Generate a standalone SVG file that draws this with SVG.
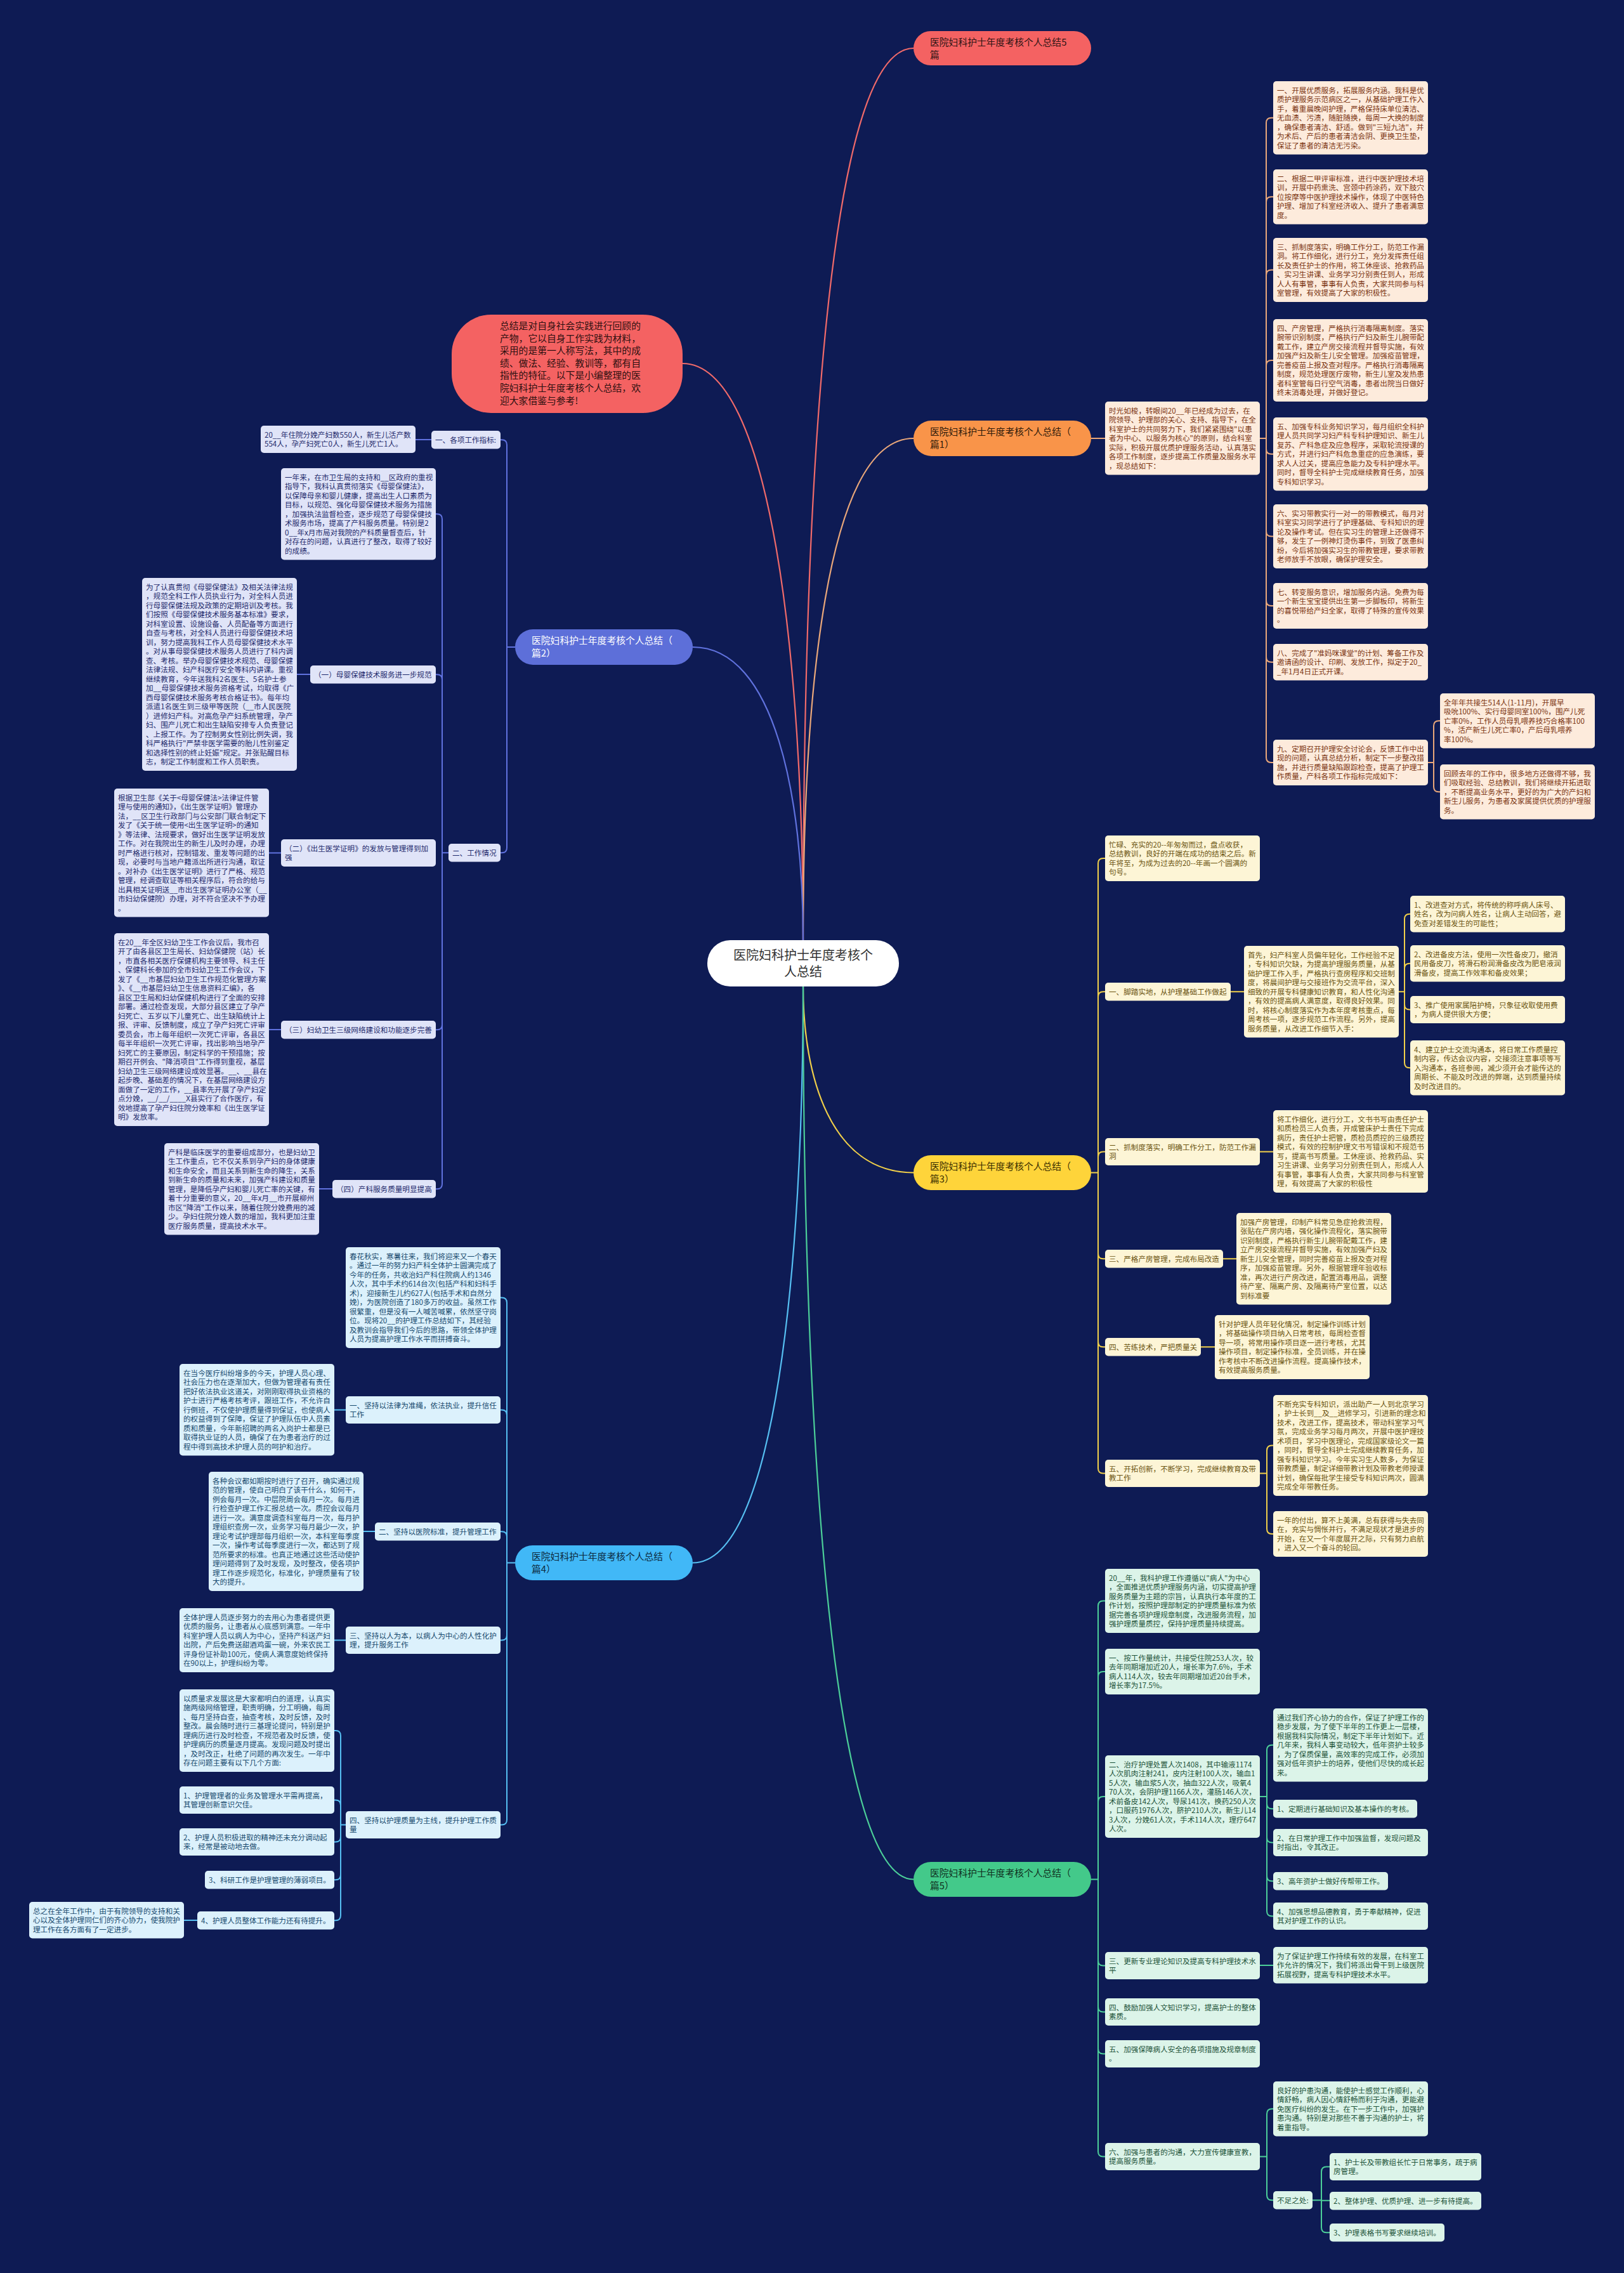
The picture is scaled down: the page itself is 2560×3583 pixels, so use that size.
<svg xmlns="http://www.w3.org/2000/svg" width="2560" height="3583" viewBox="0 0 2560 3583">
<style>
text{font-family:'Noto Sans CJK SC','Noto Sans',sans-serif}
.t{font-size:11.6px}
.pl{font-size:14.8px}
.o rect{fill:#fdebdc} .o text{fill:#7b3410}
.p rect{fill:#e0e4f8} .p text{fill:#1e2a6c}
.y rect{fill:#fdf5d6} .y text{fill:#6b5410}
.c rect{fill:#dcf1fc} .c text{fill:#174a6e}
.g rect{fill:#dcf4e9} .g text{fill:#1d5339}
path{fill:none;stroke-width:2}
.lo{stroke:#e9a77a}.lp{stroke:#6072de}.ly{stroke:#f0cf4a}.lc{stroke:#56bff2}.lg{stroke:#4ccf99}.lr{stroke:#f06a6a}
.m path{stroke-width:2.2}
</style>
<rect x="0" y="0" width="2560" height="3583" fill="#0e1b54"/>
<g id="connectors">
<g class="m">
<path class="lr" d="M1266 1482 C1266 807 1301 76 1440 76"/>
<path class="lr" d="M1266 1482 C1266 1045 1216 573 1076 573"/>
<path class="lo" d="M1266 1482 C1266 1102 1301 691 1440 691"/>
<path class="lp" d="M1266 1482 C1266 1260 1222 1020 1092 1020"/>
<path class="ly" d="M1266 1555 C1266 1696 1309 1848.5 1440 1848.5"/>
<path class="lc" d="M1266 1555 C1266 1991 1222 2463.5 1092 2463.5"/>
<path class="lg" d="M1266 1555 C1266 2230 1309 2962.5 1440 2962.5"/>
</g>
<g class="lo">
<path d="M1720 691 H1742"/>
<path d="M1986 691 H1996 V193.75 Q1996 185.75 2004 185.75 H2007"/>
<path d="M1996 691 V318.25 Q1996 310.25 2004 310.25 H2007"/>
<path d="M1996 691 V433.5 Q1996 425.5 2004 425.5 H2007"/>
<path d="M1996 691 V576 Q1996 568 2004 568 H2007"/>
<path d="M1996 691 V707.75 Q1996 715.75 2004 715.75 H2007"/>
<path d="M1996 691 V837.5 Q1996 845.5 2004 845.5 H2007"/>
<path d="M1996 691 V947 Q1996 955 2004 955 H2007"/>
<path d="M1996 691 V1035.75 Q1996 1043.75 2004 1043.75 H2007"/>
<path d="M1996 691 V1194 Q1996 1202 2004 1202 H2007"/>
<path d="M2251 1202 H2260 V1144.25 Q2260 1136.25 2268 1136.25 H2270"/>
<path d="M2260 1202 V1240.25 Q2260 1248.25 2268 1248.25 H2270"/>
</g>
<g class="ly">
<path d="M1720 1848.5 H1731 V1361 Q1731 1353 1739 1353 H1742"/>
<path d="M1731 1848.5 V1571.25 Q1731 1563.25 1739 1563.25 H1742"/>
<path d="M1731 1848.5 V1823.5 Q1731 1815.5 1739 1815.5 H1742"/>
<path d="M1731 1848.5 V1976.25 Q1731 1984.25 1739 1984.25 H1742"/>
<path d="M1731 1848.5 V2115.25 Q1731 2123.25 1739 2123.25 H1742"/>
<path d="M1731 1848.5 V2314.5 Q1731 2322.5 1739 2322.5 H1742"/>
<path d="M1940 1563.25 H1961"/>
<path d="M2205 1563.25 H2214 V1448.75 Q2214 1440.75 2222 1440.75 H2223"/>
<path d="M2214 1563.25 V1526.75 Q2214 1518.75 2222 1518.75 H2223"/>
<path d="M2214 1563.25 V1583.5 Q2214 1591.5 2222 1591.5 H2223"/>
<path d="M2214 1563.25 V1675.25 Q2214 1683.25 2222 1683.25 H2223"/>
<path d="M1986 1815.5 H2007"/>
<path d="M1928 1984.25 H1949"/>
<path d="M1893 2123.25 H1915"/>
<path d="M1986 2322.5 H1997 V2286.5 Q1997 2278.5 2005 2278.5 H2007"/>
<path d="M1997 2322.5 V2410 Q1997 2418 2005 2418 H2007"/>
</g>
<g class="lg">
<path d="M1720 2962.5 H1731 V2531.5 Q1731 2523.5 1739 2523.5 H1742"/>
<path d="M1731 2962.5 V2643 Q1731 2635 1739 2635 H1742"/>
<path d="M1731 2962.5 V2840 Q1731 2832 1739 2832 H1742"/>
<path d="M1731 2962.5 V3090.5 Q1731 3098.5 1739 3098.5 H1742"/>
<path d="M1731 2962.5 V3163.5 Q1731 3171.5 1739 3171.5 H1742"/>
<path d="M1731 2962.5 V3229.5 Q1731 3237.5 1739 3237.5 H1742"/>
<path d="M1731 2962.5 V3391.5 Q1731 3399.5 1739 3399.5 H1742"/>
<path d="M1986 2832 H1997 V2758.75 Q1997 2750.75 2005 2750.75 H2007"/>
<path d="M1997 2832 V2843.25 Q1997 2851.25 2005 2851.25 H2007"/>
<path d="M1997 2832 V2896.5 Q1997 2904.5 2005 2904.5 H2007"/>
<path d="M1997 2832 V2957.25 Q1997 2965.25 2005 2965.25 H2007"/>
<path d="M1997 2832 V3012.5 Q1997 3020.5 2005 3020.5 H2007"/>
<path d="M1986 3098 H2007"/>
<path d="M1986 3399.5 H1997 V3332.25 Q1997 3324.25 2005 3324.25 H2007"/>
<path d="M1997 3399.5 V3460.25 Q1997 3468.25 2005 3468.25 H2007"/>
<path d="M2069 3468.25 H2083 V3423.5 Q2083 3415.5 2091 3415.5 H2096"/>
<path d="M2083 3468.75 H2096"/>
<path d="M2083 3468.25 V3511.25 Q2083 3519.25 2091 3519.25 H2096"/>
</g>
<g class="lp">
<path d="M812 1020 H799 V701.25 Q799 693.25 791 693.25 H789"/>
<path d="M799 1020 V1336.25 Q799 1344.25 791 1344.25 H789"/>
<path d="M680 693 H655"/>
<path d="M707 1344.25 H697 V818.25 Q697 810.25 689 810.25 H687"/>
<path d="M697 1344.25 V1071.25 Q697 1063.25 689 1063.25 H687"/>
<path d="M697 1344.25 V1615.25 Q697 1623.25 689 1623.25 H687"/>
<path d="M697 1344.25 V1866.25 Q697 1874.25 689 1874.25 H687"/>
<path d="M489 1063 H468"/>
<path d="M443 1344.5 H424"/>
<path d="M443 1623 H424"/>
<path d="M524 1874 H503"/>
</g>
<g class="lc">
<path d="M812 2463.5 H799 V2053.5 Q799 2045.5 791 2045.5 H789"/>
<path d="M799 2463.5 V2230.5 Q799 2222.5 791 2222.5 H789"/>
<path d="M799 2463.5 V2422.25 Q799 2414.25 791 2414.25 H789"/>
<path d="M799 2463.5 V2577.5 Q799 2585.5 791 2585.5 H789"/>
<path d="M799 2463.5 V2868.5 Q799 2876.5 791 2876.5 H789"/>
<path d="M545 2222.5 H527"/>
<path d="M591 2414 H573"/>
<path d="M545 2585.5 H527"/>
<path d="M545 2876.5 H537 V2736 Q537 2728 529 2728 H527"/>
<path d="M537 2876.5 V2845.5 Q537 2837.5 529 2837.5 H527"/>
<path d="M537 2876.5 V2895.5 Q537 2903.5 529 2903.5 H527"/>
<path d="M537 2876.5 V2955.25 Q537 2963.25 529 2963.25 H527"/>
<path d="M537 2876.5 V3019.25 Q537 3027.25 529 3027.25 H527"/>
<path d="M311 3027 H290"/>
</g>
</g>

<g id="root">
<rect x="1115" y="1482" width="302" height="73" rx="36" fill="#ffffff"/>
<text x="1266" y="1512.5" font-size="20" fill="#333333" text-anchor="middle"><tspan x="1266">医院妇科护士年度考核个</tspan><tspan x="1266" dy="26">人总结</tspan></text>
</g>
<g id="title5">
<rect x="1440" y="49" width="280" height="54" rx="27" fill="#f46262"/>
<text class="pl" x="1466" y="72" fill="#2e1414"><tspan x="1466">医院妇科护士年度考核个人总结5</tspan><tspan x="1466" dy="20">篇</tspan></text>
</g>
<g id="intro">
<rect x="712" y="496" width="364" height="155" rx="62" fill="#f46262"/>
<text x="788" y="519" font-size="14.8" fill="#2e1010"><tspan x="788">总结是对自身社会实践进行回顾的</tspan><tspan x="788" dy="19.6">产物，它以自身工作实践为材料，</tspan><tspan x="788" dy="19.6">采用的是第一人称写法，其中的成</tspan><tspan x="788" dy="19.6">绩、做法、经验、教训等，都有自</tspan><tspan x="788" dy="19.6">指性的特征。以下是小编整理的医</tspan><tspan x="788" dy="19.6">院妇科护士年度考核个人总结，欢</tspan><tspan x="788" dy="19.6">迎大家借鉴与参考!</tspan></text>
</g>

<g id="pian1">
<rect x="1440" y="663" width="280" height="56" rx="28" fill="#f99449"/>
<text class="pl" x="1466" y="686" fill="#2e1a0a"><tspan x="1466">医院妇科护士年度考核个人总结（</tspan><tspan x="1466" dy="20">篇1）</tspan></text>
</g>
<g id="p1-intro" class="o"><rect x="1742" y="633" width="244" height="115.5" rx="5"/><text class="t" x="1748" y="651.5"><tspan x="1748">时光如梭，转眼间20__年已经成为过去，在</tspan><tspan x="1748" dy="14.5">院领导、护理部的关心、支持、指导下，在全</tspan><tspan x="1748" dy="14.5">科室护士的共同努力下，我们紧紧围绕"以患</tspan><tspan x="1748" dy="14.5">者为中心、以服务为核心"的原则，结合科室</tspan><tspan x="1748" dy="14.5">实际，积极开展优质护理服务活动，认真落实</tspan><tspan x="1748" dy="14.5">各项工作制度，逐步提高工作质量及服务水平</tspan><tspan x="1748" dy="14.5">，现总结如下：</tspan></text></g>
<g id="p1-1" class="o"><rect x="2007" y="128" width="244" height="115.5" rx="5"/><text class="t" x="2013" y="146.5"><tspan x="2013">一、开展优质服务，拓展服务内涵。我科是优</tspan><tspan x="2013" dy="14.5">质护理服务示范病区之一，从基础护理工作入</tspan><tspan x="2013" dy="14.5">手，着重晨晚间护理，严格保持床单位清洁、</tspan><tspan x="2013" dy="14.5">无血渍、污渍，随脏随换，每周一大换的制度</tspan><tspan x="2013" dy="14.5">，确保患者清洁、舒适。做到"三短九洁"，并</tspan><tspan x="2013" dy="14.5">为术后、产后的患者清洁会阴、更换卫生垫，</tspan><tspan x="2013" dy="14.5">保证了患者的清洁无污染。</tspan></text></g>
<g id="p1-2" class="o"><rect x="2007" y="267" width="244" height="86.5" rx="5"/><text class="t" x="2013" y="285.5"><tspan x="2013">二、根据二甲评审标准，进行中医护理技术培</tspan><tspan x="2013" dy="14.5">训，开展中药熏洗、宫颈中药涂药，双下肢穴</tspan><tspan x="2013" dy="14.5">位按摩等中医护理技术操作，体现了中医特色</tspan><tspan x="2013" dy="14.5">护理、增加了科室经济收入、提升了患者满意</tspan><tspan x="2013" dy="14.5">度。</tspan></text></g>
<g id="p1-3" class="o"><rect x="2007" y="375" width="244" height="101" rx="5"/><text class="t" x="2013" y="393.5"><tspan x="2013">三、抓制度落实，明确工作分工，防范工作漏</tspan><tspan x="2013" dy="14.5">洞。将工作细化，进行分工，充分发挥责任组</tspan><tspan x="2013" dy="14.5">长及责任护士的作用，将工休座谈、抢救药品</tspan><tspan x="2013" dy="14.5">、实习生讲课、业务学习分别责任到人，形成</tspan><tspan x="2013" dy="14.5">人人有事管，事事有人负责，大家共同参与科</tspan><tspan x="2013" dy="14.5">室管理，有效提高了大家的积极性。</tspan></text></g>
<g id="p1-4" class="o"><rect x="2007" y="503" width="244" height="130" rx="5"/><text class="t" x="2013" y="521.5"><tspan x="2013">四、产房管理，严格执行消毒隔离制度。落实</tspan><tspan x="2013" dy="14.5">腕带识别制度，严格执行产妇及新生儿腕带配</tspan><tspan x="2013" dy="14.5">戴工作，建立产房交接流程并督导实施，有效</tspan><tspan x="2013" dy="14.5">加强产妇及新生儿安全管理。加强疫苗管理，</tspan><tspan x="2013" dy="14.5">完善疫苗上报及查对程序。严格执行消毒隔离</tspan><tspan x="2013" dy="14.5">制度，规范处理医疗废物，新生儿室及发热患</tspan><tspan x="2013" dy="14.5">者科室管每日行空气消毒，患者出院当日做好</tspan><tspan x="2013" dy="14.5">终末消毒处理，并做好登记。</tspan></text></g>
<g id="p1-5" class="o"><rect x="2007" y="658" width="244" height="115.5" rx="5"/><text class="t" x="2013" y="676.5"><tspan x="2013">五、加强专科业务知识学习，每月组织全科护</tspan><tspan x="2013" dy="14.5">理人员共同学习妇产科专科护理知识、新生儿</tspan><tspan x="2013" dy="14.5">复苏、产科急症及应急程序，采取轮流授课的</tspan><tspan x="2013" dy="14.5">方式，并进行妇产科危急重症的应急演练，要</tspan><tspan x="2013" dy="14.5">求人人过关，提高应急能力及专科护理水平。</tspan><tspan x="2013" dy="14.5">同时，督导全科护士完成继续教育任务，加强</tspan><tspan x="2013" dy="14.5">专科知识学习。</tspan></text></g>
<g id="p1-6" class="o"><rect x="2007" y="795" width="244" height="101" rx="5"/><text class="t" x="2013" y="813.5"><tspan x="2013">六、实习带教实行一对一的带教模式，每月对</tspan><tspan x="2013" dy="14.5">科室实习同学进行了护理基础、专科知识的理</tspan><tspan x="2013" dy="14.5">论及操作考试。但在实习生的管理上还做得不</tspan><tspan x="2013" dy="14.5">够，发生了一例神灯烫伤事件，到致了医患纠</tspan><tspan x="2013" dy="14.5">纷，今后将加强实习生的带教管理，要求带教</tspan><tspan x="2013" dy="14.5">老师放手不放眼，确保护理安全。</tspan></text></g>
<g id="p1-7" class="o"><rect x="2007" y="919" width="244" height="72" rx="5"/><text class="t" x="2013" y="937.5"><tspan x="2013">七、转变服务意识，增加服务内涵。免费为每</tspan><tspan x="2013" dy="14.5">一个新生宝宝提供出生第一步脚板印，将新生</tspan><tspan x="2013" dy="14.5">的喜悦带给产妇全家，取得了特殊的宣传效果</tspan><tspan x="2013" dy="14.5">。</tspan></text></g>
<g id="p1-8" class="o"><rect x="2007" y="1015" width="244" height="57.5" rx="5"/><text class="t" x="2013" y="1033.5"><tspan x="2013">八、完成了"准妈咪课堂"的计划、筹备工作及</tspan><tspan x="2013" dy="14.5">邀请函的设计、印刷、发放工作，拟定于20_</tspan><tspan x="2013" dy="14.5">_年1月4日正式开课。</tspan></text></g>
<g id="p1-9" class="o"><rect x="2007" y="1166" width="244" height="72" rx="5"/><text class="t" x="2013" y="1184.5"><tspan x="2013">九、定期召开护理安全讨论会，反馈工作中出</tspan><tspan x="2013" dy="14.5">现的问题，认真总结分析，制定下一步整改措</tspan><tspan x="2013" dy="14.5">施，并进行质量缺陷跟踪检查，提高了护理工</tspan><tspan x="2013" dy="14.5">作质量，产科各项工作指标完成如下：</tspan></text></g>
<g id="p1-9a" class="o"><rect x="2270" y="1093" width="244" height="86.5" rx="5"/><text class="t" x="2276" y="1111.5"><tspan x="2276">全年年共接生514人(1-11月)，开展早</tspan><tspan x="2276" dy="14.5">吸吮100%、实行母婴同室100%，围产儿死</tspan><tspan x="2276" dy="14.5">亡率0%，工作人员母乳喂养技巧合格率100</tspan><tspan x="2276" dy="14.5">%，活产新生儿死亡率0，产后母乳喂养</tspan><tspan x="2276" dy="14.5">率100%。</tspan></text></g>
<g id="p1-9b" class="o"><rect x="2270" y="1205" width="244" height="86.5" rx="5"/><text class="t" x="2276" y="1223.5"><tspan x="2276">回顾去年的工作中，很多地方还做得不够，我</tspan><tspan x="2276" dy="14.5">们吸取经验、总结教训，我们将继续开拓进取</tspan><tspan x="2276" dy="14.5">，不断提高业务水平，更好的为广大的产妇和</tspan><tspan x="2276" dy="14.5">新生儿服务，为患者及家属提供优质的护理服</tspan><tspan x="2276" dy="14.5">务。</tspan></text></g>

<g id="pian3">
<rect x="1440" y="1821" width="280" height="55" rx="27.5" fill="#fed43a"/>
<text class="pl" x="1466" y="1844" fill="#3a2e00"><tspan x="1466">医院妇科护士年度考核个人总结（</tspan><tspan x="1466" dy="20">篇3）</tspan></text>
</g>
<g id="p3-0" class="y"><rect x="1742" y="1317" width="244" height="72" rx="5"/><text class="t" x="1748" y="1335.5"><tspan x="1748">忙碌、充实的20--年匆匆而过，盘点收获，</tspan><tspan x="1748" dy="14.5">总结教训，良好的开端在成功的结束之后。新</tspan><tspan x="1748" dy="14.5">年将至，为成为过去的20--年画一个圆满的</tspan><tspan x="1748" dy="14.5">句号。</tspan></text></g>
<g id="p3-1" class="y"><rect x="1742" y="1549" width="198" height="28.5" rx="5"/><text class="t" x="1748" y="1567.5">一、脚踏实地，从护理基础工作做起</text></g>
<g id="p3-1c" class="y"><rect x="1961" y="1491" width="244" height="144.5" rx="5"/><text class="t" x="1967" y="1509.5"><tspan x="1967">首先，妇产科室人员偏年轻化，工作经验不足</tspan><tspan x="1967" dy="14.5">，专科知识欠缺，为提高护理服务质量，从基</tspan><tspan x="1967" dy="14.5">础护理工作入手，严格执行查房程序和交班制</tspan><tspan x="1967" dy="14.5">度，将晨间护理与交接班作为交流平台，深入</tspan><tspan x="1967" dy="14.5">细致的开展专科健康知识教育，和人性化沟通</tspan><tspan x="1967" dy="14.5">，有效的提高病人满意度，取得良好效果。同</tspan><tspan x="1967" dy="14.5">时，将核心制度落实作为本年度考核重点，每</tspan><tspan x="1967" dy="14.5">周考核一项，逐步规范工作流程。另外，提高</tspan><tspan x="1967" dy="14.5">服务质量，从改进工作细节入手：</tspan></text></g>
<g id="p3-1c1" class="y"><rect x="2223" y="1412" width="244" height="57.5" rx="5"/><text class="t" x="2229" y="1430.5"><tspan x="2229">1、改进查对方式，将传统的称呼病人床号、</tspan><tspan x="2229" dy="14.5">姓名，改为问病人姓名，让病人主动回答，避</tspan><tspan x="2229" dy="14.5">免查对差错发生的可能性；</tspan></text></g>
<g id="p3-1c2" class="y"><rect x="2223" y="1490" width="244" height="57.5" rx="5"/><text class="t" x="2229" y="1508.5"><tspan x="2229">2、改进备皮方法，使用一次性备皮刀，撤消</tspan><tspan x="2229" dy="14.5">民用备皮刀，将滑石粉润滑备皮改为肥皂液润</tspan><tspan x="2229" dy="14.5">滑备皮，提高工作效率和备皮效果；</tspan></text></g>
<g id="p3-1c3" class="y"><rect x="2223" y="1570" width="244" height="43" rx="5"/><text class="t" x="2229" y="1588.5"><tspan x="2229">3、推广使用家属陪护椅，只象征收取使用费</tspan><tspan x="2229" dy="14.5">，为病人提供很大方便；</tspan></text></g>
<g id="p3-1c4" class="y"><rect x="2223" y="1640" width="244" height="86.5" rx="5"/><text class="t" x="2229" y="1658.5"><tspan x="2229">4、建立护士交流沟通本，将日常工作质量控</tspan><tspan x="2229" dy="14.5">制内容，传达会议内容，交接须注意事项等写</tspan><tspan x="2229" dy="14.5">入沟通本，各班参阅，减少须开会才能传达的</tspan><tspan x="2229" dy="14.5">周期长、不能及时改进的弊端，达到质量持续</tspan><tspan x="2229" dy="14.5">及时改进目的。</tspan></text></g>
<g id="p3-2" class="y"><rect x="1742" y="1794" width="244" height="43" rx="5"/><text class="t" x="1748" y="1812.5"><tspan x="1748">二、抓制度落实，明确工作分工，防范工作漏</tspan><tspan x="1748" dy="14.5">洞</tspan></text></g>
<g id="p3-2c" class="y"><rect x="2007" y="1750" width="244" height="130" rx="5"/><text class="t" x="2013" y="1768.5"><tspan x="2013">将工作细化，进行分工，文书书写由责任护士</tspan><tspan x="2013" dy="14.5">和质检员三人负责，开成管床护士责任下完成</tspan><tspan x="2013" dy="14.5">病历，责任护士把管，质检员质控的三级质控</tspan><tspan x="2013" dy="14.5">模式，有效的控制护理文书写错误和不规范书</tspan><tspan x="2013" dy="14.5">写，提高书写质量。工休座谈、抢救药品、实</tspan><tspan x="2013" dy="14.5">习生讲课、业务学习分别责任到人，形成人人</tspan><tspan x="2013" dy="14.5">有事管，事事有人负责，大家共同参与科室管</tspan><tspan x="2013" dy="14.5">理，有效提高了大家的积极性</tspan></text></g>
<g id="p3-3" class="y"><rect x="1742" y="1970" width="186" height="28.5" rx="5"/><text class="t" x="1748" y="1988.5">三、严格产房管理，完成布局改造</text></g>
<g id="p3-3c" class="y"><rect x="1949" y="1912" width="244" height="144.5" rx="5"/><text class="t" x="1955" y="1930.5"><tspan x="1955">加强产房管理，印制产科常见急症抢救流程，</tspan><tspan x="1955" dy="14.5">张贴在产房内墙，强化操作流程化，落实腕带</tspan><tspan x="1955" dy="14.5">识别制度，严格执行新生儿腕带配戴工作，建</tspan><tspan x="1955" dy="14.5">立产房交接流程并督导实施，有效加强产妇及</tspan><tspan x="1955" dy="14.5">新生儿安全管理，同时完善疫苗上报及查对程</tspan><tspan x="1955" dy="14.5">序，加强疫苗管理。另外，根据管理年验收标</tspan><tspan x="1955" dy="14.5">准，再次进行产房改进，配置消毒用品，调整</tspan><tspan x="1955" dy="14.5">待产室、隔离产房、及隔离待产室位置，以达</tspan><tspan x="1955" dy="14.5">到标准要</tspan></text></g>
<g id="p3-4" class="y"><rect x="1742" y="2109" width="151" height="28.5" rx="5"/><text class="t" x="1748" y="2127.5">四、苦练技术，严把质量关</text></g>
<g id="p3-4c" class="y"><rect x="1915" y="2073" width="244" height="101" rx="5"/><text class="t" x="1921" y="2091.5"><tspan x="1921">针对护理人员年轻化情况，制定操作训练计划</tspan><tspan x="1921" dy="14.5">，将基础操作项目纳入日常考核，每周检查督</tspan><tspan x="1921" dy="14.5">导一项，将常用操作项目逐一进行考核，尤其</tspan><tspan x="1921" dy="14.5">操作项目，制定操作标准，全员训练，并在操</tspan><tspan x="1921" dy="14.5">作考核中不断改进操作流程。提高操作技术，</tspan><tspan x="1921" dy="14.5">有效提高服务质量。</tspan></text></g>
<g id="p3-5" class="y"><rect x="1742" y="2301" width="244" height="43" rx="5"/><text class="t" x="1748" y="2319.5"><tspan x="1748">五、开拓创新，不断学习，完成继续教育及带</tspan><tspan x="1748" dy="14.5">教工作</tspan></text></g>
<g id="p3-5a" class="y"><rect x="2007" y="2199" width="244" height="159" rx="5"/><text class="t" x="2013" y="2217.5"><tspan x="2013">不断充实专科知识，派出助产一人到北京学习</tspan><tspan x="2013" dy="14.5">，护士长到__及__进修学习，引进新的理念和</tspan><tspan x="2013" dy="14.5">技术，改进工作，提高技术，带动科室学习气</tspan><tspan x="2013" dy="14.5">氛，完成业务学习每月两次，开展中医护理技</tspan><tspan x="2013" dy="14.5">术项目，学习中医理论，完成国家级论文一篇</tspan><tspan x="2013" dy="14.5">，同时，督导全科护士完成继续教育任务，加</tspan><tspan x="2013" dy="14.5">强专科知识学习。今年实习生人数多，为保证</tspan><tspan x="2013" dy="14.5">带教质量，制定详细带教计划及带教老师授课</tspan><tspan x="2013" dy="14.5">计划，确保每批学生接受专科知识两次，圆满</tspan><tspan x="2013" dy="14.5">完成全年带教任务。</tspan></text></g>
<g id="p3-5b" class="y"><rect x="2007" y="2382" width="244" height="72" rx="5"/><text class="t" x="2013" y="2400.5"><tspan x="2013">一年的付出，算不上美满，总有获得与失去同</tspan><tspan x="2013" dy="14.5">在，充实与惆怅并行，不满足现状才是进步的</tspan><tspan x="2013" dy="14.5">开始，在又一个年度展开之际，只有努力启航</tspan><tspan x="2013" dy="14.5">，进入又一个奋斗的轮回。</tspan></text></g>

<g id="pian5">
<rect x="1440" y="2935" width="280" height="55" rx="27.5" fill="#43c98a"/>
<text class="pl" x="1466" y="2958" fill="#10301f"><tspan x="1466">医院妇科护士年度考核个人总结（</tspan><tspan x="1466" dy="20">篇5）</tspan></text>
</g>
<g id="p5-0" class="g"><rect x="1742" y="2473" width="244" height="101" rx="5"/><text class="t" x="1748" y="2491.5"><tspan x="1748">20__年，我科护理工作遵循以"病人"为中心</tspan><tspan x="1748" dy="14.5">，全面推进优质护理服务内涵，切实提高护理</tspan><tspan x="1748" dy="14.5">服务质量为主题的宗旨，认真执行本年度的工</tspan><tspan x="1748" dy="14.5">作计划，按照护理部制定的护理质量标准为依</tspan><tspan x="1748" dy="14.5">据完善各项护理规章制度，改进服务流程，加</tspan><tspan x="1748" dy="14.5">强护理质量质控，保持护理质量持续提高。</tspan></text></g>
<g id="p5-1" class="g"><rect x="1742" y="2599" width="244" height="72" rx="5"/><text class="t" x="1748" y="2617.5"><tspan x="1748">一、按工作量统计，共接受住院253人次，较</tspan><tspan x="1748" dy="14.5">去年同期增加近20人，增长率为7.6%，手术</tspan><tspan x="1748" dy="14.5">病人114人次，较去年同期增加近20台手术，</tspan><tspan x="1748" dy="14.5">增长率为17.5%。</tspan></text></g>
<g id="p5-2" class="g"><rect x="1742" y="2767" width="244" height="130" rx="5"/><text class="t" x="1748" y="2785.5"><tspan x="1748">二、治疗护理处置人次1408，其中输液1174</tspan><tspan x="1748" dy="14.5">人次肌肉注射241，皮内注射100人次，输血1</tspan><tspan x="1748" dy="14.5">5人次，输血浆5人次，抽血322人次，吸氧4</tspan><tspan x="1748" dy="14.5">70人次，会阴护理1166人次，灌肠146人次，</tspan><tspan x="1748" dy="14.5">术前备皮142人次，导尿141次，换药250人次</tspan><tspan x="1748" dy="14.5">，口服药1976人次，脐护210人次，新生儿14</tspan><tspan x="1748" dy="14.5">3人次，分娩61人次，手术114人次，理疗647</tspan><tspan x="1748" dy="14.5">人次。</tspan></text></g>
<g id="p5-2a" class="g"><rect x="2007" y="2693" width="244" height="115.5" rx="5"/><text class="t" x="2013" y="2711.5"><tspan x="2013">通过我们齐心协力的合作，保证了护理工作的</tspan><tspan x="2013" dy="14.5">稳步发展，为了使下半年的工作更上一层楼，</tspan><tspan x="2013" dy="14.5">根据我科实际情况，制定下半年计划如下。近</tspan><tspan x="2013" dy="14.5">几年来，我科人事变动较大，低年资护士较多</tspan><tspan x="2013" dy="14.5">，为了保质保量，高效率的完成工作，必须加</tspan><tspan x="2013" dy="14.5">强对低年资护士的培养，使他们尽快的成长起</tspan><tspan x="2013" dy="14.5">来。</tspan></text></g>
<g id="p5-2b" class="g"><rect x="2007" y="2837" width="227" height="28.5" rx="5"/><text class="t" x="2013" y="2855.5">1、定期进行基础知识及基本操作的考核。</text></g>
<g id="p5-2c" class="g"><rect x="2007" y="2883" width="244" height="43" rx="5"/><text class="t" x="2013" y="2901.5"><tspan x="2013">2、在日常护理工作中加强监督，发现问题及</tspan><tspan x="2013" dy="14.5">时指出，令其改正。</tspan></text></g>
<g id="p5-2d" class="g"><rect x="2007" y="2951" width="181" height="28.5" rx="5"/><text class="t" x="2013" y="2969.5">3、高年资护士做好传帮带工作。</text></g>
<g id="p5-2e" class="g"><rect x="2007" y="2999" width="244" height="43" rx="5"/><text class="t" x="2013" y="3017.5"><tspan x="2013">4、加强思想品德教育，勇于奉献精神，促进</tspan><tspan x="2013" dy="14.5">其对护理工作的认识。</tspan></text></g>
<g id="p5-3" class="g"><rect x="1742" y="3077" width="244" height="43" rx="5"/><text class="t" x="1748" y="3095.5"><tspan x="1748">三、更新专业理论知识及提高专科护理技术水</tspan><tspan x="1748" dy="14.5">平</tspan></text></g>
<g id="p5-3c" class="g"><rect x="2007" y="3069" width="244" height="57.5" rx="5"/><text class="t" x="2013" y="3087.5"><tspan x="2013">为了保证护理工作持续有效的发展，在科室工</tspan><tspan x="2013" dy="14.5">作允许的情况下，我们将派出骨干到上级医院</tspan><tspan x="2013" dy="14.5">拓展视野，提高专科护理技术水平。</tspan></text></g>
<g id="p5-4" class="g"><rect x="1742" y="3150" width="244" height="43" rx="5"/><text class="t" x="1748" y="3168.5"><tspan x="1748">四、鼓励加强人文知识学习，提高护士的整体</tspan><tspan x="1748" dy="14.5">素质。</tspan></text></g>
<g id="p5-5" class="g"><rect x="1742" y="3216" width="244" height="43" rx="5"/><text class="t" x="1748" y="3234.5"><tspan x="1748">五、加强保障病人安全的各项措施及规章制度</tspan><tspan x="1748" dy="14.5">。</tspan></text></g>
<g id="p5-6" class="g"><rect x="1742" y="3378" width="244" height="43" rx="5"/><text class="t" x="1748" y="3396.5"><tspan x="1748">六、加强与患者的沟通，大力宣传健康宣教，</tspan><tspan x="1748" dy="14.5">提高服务质量。</tspan></text></g>
<g id="p5-6a" class="g"><rect x="2007" y="3281" width="244" height="86.5" rx="5"/><text class="t" x="2013" y="3299.5"><tspan x="2013">良好的护患沟通，能使护士感觉工作顺利，心</tspan><tspan x="2013" dy="14.5">情舒畅，病人因心情舒畅而利于沟通，更能避</tspan><tspan x="2013" dy="14.5">免医疗纠纷的发生。在下一步工作中，加强护</tspan><tspan x="2013" dy="14.5">患沟通。特别是对那些不善于沟通的护士，将</tspan><tspan x="2013" dy="14.5">着重指导。</tspan></text></g>
<g id="p5-6b" class="g"><rect x="2007" y="3454" width="62" height="28.5" rx="5"/><text class="t" x="2013" y="3472.5">不足之处:</text></g>
<g id="p5-6b1" class="g"><rect x="2096" y="3394" width="239" height="43" rx="5"/><text class="t" x="2102" y="3412.5"><tspan x="2102">1、护士长及带教组长忙于日常事务，疏于病</tspan><tspan x="2102" dy="14.5">房管理。</tspan></text></g>
<g id="p5-6b2" class="g"><rect x="2096" y="3455" width="239" height="28.5" rx="5"/><text class="t" x="2102" y="3473.5">2、整体护理、优质护理、进一步有待提高。</text></g>
<g id="p5-6b3" class="g"><rect x="2096" y="3505" width="181" height="28.5" rx="5"/><text class="t" x="2102" y="3523.5">3、护理表格书写要求继续培训。</text></g>

<g id="pian2">
<rect x="812" y="992" width="280" height="56" rx="28" fill="#5d6fd9"/>
<text class="pl" x="838" y="1015" fill="#ffffff"><tspan x="838">医院妇科护士年度考核个人总结（</tspan><tspan x="838" dy="20">篇2）</tspan></text>
</g>
<g id="p2-1" class="p"><rect x="680" y="679" width="109" height="28.5" rx="5"/><text class="t" x="686" y="697.5">一、各项工作指标:</text></g>
<g id="p2-1c" class="p"><rect x="411" y="671" width="244" height="43" rx="5"/><text class="t" x="417" y="689.5"><tspan x="417">20__年住院分娩产妇数550人，新生儿活产数</tspan><tspan x="417" dy="14.5">554人，孕产妇死亡0人，新生儿死亡1人。</tspan></text></g>
<g id="p2-2" class="p"><rect x="707" y="1330" width="82" height="28.5" rx="5"/><text class="t" x="713" y="1348.5">二、工作情况</text></g>
<g id="p2-2a" class="p"><rect x="443" y="738" width="244" height="144.5" rx="5"/><text class="t" x="449" y="756.5"><tspan x="449">一年来，在市卫生局的支持和__区政府的重视</tspan><tspan x="449" dy="14.5">指导下，我科认真贯彻落实《母婴保健法》，</tspan><tspan x="449" dy="14.5">以保障母亲和婴儿健康，提高出生人口素质为</tspan><tspan x="449" dy="14.5">目标，以规范、强化母婴保健技术服务为措施</tspan><tspan x="449" dy="14.5">，加强执法监督检查，逐步规范了母婴保健技</tspan><tspan x="449" dy="14.5">术服务市场，提高了产科服务质量。特别是2</tspan><tspan x="449" dy="14.5">0__年x月市局对我院的产科质量督查后，针</tspan><tspan x="449" dy="14.5">对存在的问题，认真进行了整改，取得了较好</tspan><tspan x="449" dy="14.5">的成绩。</tspan></text></g>
<g id="p2-2b" class="p"><rect x="489" y="1049" width="198" height="28.5" rx="5"/><text class="t" x="495" y="1067.5">（一）母婴保健技术服务进一步规范</text></g>
<g id="p2-2bc" class="p"><rect x="224" y="911" width="244" height="304" rx="5"/><text class="t" x="230" y="929.5"><tspan x="230">为了认真贯彻《母婴保健法》及相关法律法规</tspan><tspan x="230" dy="14.5">，规范全科工作人员执业行为，对全科人员进</tspan><tspan x="230" dy="14.5">行母婴保健法规及政策的定期培训及考核。我</tspan><tspan x="230" dy="14.5">们按照《母婴保健技术服务基本标准》要求，</tspan><tspan x="230" dy="14.5">对科室设置、设施设备、人员配备等方面进行</tspan><tspan x="230" dy="14.5">自查与考核，对全科人员进行母婴保健技术培</tspan><tspan x="230" dy="14.5">训，努力提高我科工作人员母婴保健技术水平</tspan><tspan x="230" dy="14.5">。对从事母婴保健技术服务人员进行了科内调</tspan><tspan x="230" dy="14.5">查、考核。举办母婴保健技术规范、母婴保健</tspan><tspan x="230" dy="14.5">法律法规、妇产科医疗安全等科内讲课。重视</tspan><tspan x="230" dy="14.5">继续教育，今年送我科2名医生、5名护士参</tspan><tspan x="230" dy="14.5">加__母婴保健技术服务资格考试，均取得《广</tspan><tspan x="230" dy="14.5">西母婴保健技术服务考核合格证书》。每年均</tspan><tspan x="230" dy="14.5">派遣1名医生到三级甲等医院（__市人民医院</tspan><tspan x="230" dy="14.5">）进修妇产科。对高危孕产妇系统管理，孕产</tspan><tspan x="230" dy="14.5">妇、围产儿死亡和出生缺陷安排专人负责登记</tspan><tspan x="230" dy="14.5">、上报工作。为了控制男女性别比例失调，我</tspan><tspan x="230" dy="14.5">科严格执行"严禁非医学需要的胎儿性别鉴定</tspan><tspan x="230" dy="14.5">和选择性别的终止妊娠"规定。并张贴醒目标</tspan><tspan x="230" dy="14.5">志，制定工作制度和工作人员职责。</tspan></text></g>
<g id="p2-2c" class="p"><rect x="443" y="1323" width="244" height="43" rx="5"/><text class="t" x="449" y="1341.5"><tspan x="449">（二）《出生医学证明》的发放与管理得到加</tspan><tspan x="449" dy="14.5">强</tspan></text></g>
<g id="p2-2cc" class="p"><rect x="180" y="1243" width="244" height="202.5" rx="5"/><text class="t" x="186" y="1261.5"><tspan x="186">根据卫生部《关于&lt;母婴保健法&gt;法律证件管</tspan><tspan x="186" dy="14.5">理与使用的通知》，《出生医学证明》管理办</tspan><tspan x="186" dy="14.5">法，__区卫生行政部门与公安部门联合制定下</tspan><tspan x="186" dy="14.5">发了《关于统一使用&lt;出生医学证明&gt;的通知</tspan><tspan x="186" dy="14.5">》等法律、法规要求，做好出生医学证明发放</tspan><tspan x="186" dy="14.5">工作。对在我院出生的新生儿及时办理，办理</tspan><tspan x="186" dy="14.5">时严格进行核对，控制错发、重发等问题的出</tspan><tspan x="186" dy="14.5">现，必要时与当地户籍派出所进行沟通，取证</tspan><tspan x="186" dy="14.5">。对补办《出生医学证明》进行了严格、规范</tspan><tspan x="186" dy="14.5">管理，经调查取证等相关程序后，符合的给与</tspan><tspan x="186" dy="14.5">出具相关证明送__市出生医学证明办公室（__</tspan><tspan x="186" dy="14.5">市妇幼保健院）办理，对不符合坚决不予办理</tspan><tspan x="186" dy="14.5">。</tspan></text></g>
<g id="p2-2d" class="p"><rect x="443" y="1609" width="244" height="28.5" rx="5"/><text class="t" x="449" y="1627.5">（三）妇幼卫生三级网络建设和功能逐步完善</text></g>
<g id="p2-2dc" class="p"><rect x="180" y="1471" width="244" height="304" rx="5"/><text class="t" x="186" y="1489.5"><tspan x="186">在20__年全区妇幼卫生工作会议后，我市召</tspan><tspan x="186" dy="14.5">开了由各县区卫生局长、妇幼保健院（站）长</tspan><tspan x="186" dy="14.5">，市直各相关医疗保健机构主要领导、科主任</tspan><tspan x="186" dy="14.5">、保健科长参加的全市妇幼卫生工作会议，下</tspan><tspan x="186" dy="14.5">发了《__市基层妇幼卫生工作规范化管理方案</tspan><tspan x="186" dy="14.5">》、《__市基层妇幼卫生信息资料汇编》，各</tspan><tspan x="186" dy="14.5">县区卫生局和妇幼保健机构进行了全面的安排</tspan><tspan x="186" dy="14.5">部署。通过检查发现，大部分县区建立了孕产</tspan><tspan x="186" dy="14.5">妇死亡、五岁以下儿童死亡、出生缺陷统计上</tspan><tspan x="186" dy="14.5">报、评审、反馈制度，成立了孕产妇死亡评审</tspan><tspan x="186" dy="14.5">委员会，市上每年组织一次死亡评审，各县区</tspan><tspan x="186" dy="14.5">每半年组织一次死亡评审，找出影响当地孕产</tspan><tspan x="186" dy="14.5">妇死亡的主要原因，制定科学的干预措施；按</tspan><tspan x="186" dy="14.5">期召开例会、"降消项目"工作得到重视，基层</tspan><tspan x="186" dy="14.5">妇幼卫生三级网络建设成效显著。__、__县在</tspan><tspan x="186" dy="14.5">起步晚、基础差的情况下，在基层网络建设方</tspan><tspan x="186" dy="14.5">面做了一定的工作，__县率先开展了孕产妇定</tspan><tspan x="186" dy="14.5">点分娩，__/__/____X县实行了合作医疗，有</tspan><tspan x="186" dy="14.5">效地提高了孕产妇住院分娩率和《出生医学证</tspan><tspan x="186" dy="14.5">明》发放率。</tspan></text></g>
<g id="p2-2e" class="p"><rect x="524" y="1860" width="163" height="28.5" rx="5"/><text class="t" x="530" y="1878.5">（四）产科服务质量明显提高</text></g>
<g id="p2-2ec" class="p"><rect x="259" y="1802" width="244" height="144.5" rx="5"/><text class="t" x="265" y="1820.5"><tspan x="265">产科是临床医学的重要组成部分，也是妇幼卫</tspan><tspan x="265" dy="14.5">生工作重点，它不仅关系到孕产妇的身体健康</tspan><tspan x="265" dy="14.5">和生命安全，而且关系到新生命的降生，关系</tspan><tspan x="265" dy="14.5">到新生命的质量和未来，加强产科建设和质量</tspan><tspan x="265" dy="14.5">管理，是降低孕产妇和婴儿死亡率的关键，有</tspan><tspan x="265" dy="14.5">着十分重要的意义，20__年x月__市开展柳州</tspan><tspan x="265" dy="14.5">市区"降消"工作以来，随着住院分娩费用的减</tspan><tspan x="265" dy="14.5">少。孕妇住院分娩人数的增加，我科更加注重</tspan><tspan x="265" dy="14.5">医疗服务质量，提高技术水平。</tspan></text></g>

<g id="pian4">
<rect x="812" y="2436" width="280" height="55" rx="27.5" fill="#41b8f7"/>
<text class="pl" x="838" y="2459" fill="#0d2a40"><tspan x="838">医院妇科护士年度考核个人总结（</tspan><tspan x="838" dy="20">篇4）</tspan></text>
</g>
<g id="p4-0" class="c"><rect x="545" y="1966" width="244" height="159" rx="5"/><text class="t" x="551" y="1984.5"><tspan x="551">春花秋实，寒暑往来，我们将迎来又一个春天</tspan><tspan x="551" dy="14.5">。通过一年的努力妇产科全体护士圆满完成了</tspan><tspan x="551" dy="14.5">今年的任务，共收治妇产科住院病人约1346</tspan><tspan x="551" dy="14.5">人次，其中手术约614台次(包括产科和妇科手</tspan><tspan x="551" dy="14.5">术)，迎接新生儿约627人(包括手术和自然分</tspan><tspan x="551" dy="14.5">娩)，为医院创造了180多万的收益。虽然工作</tspan><tspan x="551" dy="14.5">很繁重，但是没有一人喊苦喊累，依然坚守岗</tspan><tspan x="551" dy="14.5">位。现将20__的护理工作总结如下，其经验</tspan><tspan x="551" dy="14.5">及教训会指导我们今后的思路，带领全体护理</tspan><tspan x="551" dy="14.5">人员为提高护理工作水平而拼搏奋斗。</tspan></text></g>
<g id="p4-1" class="c"><rect x="545" y="2201" width="244" height="43" rx="5"/><text class="t" x="551" y="2219.5"><tspan x="551">一、坚持以法律为准绳，依法执业，提升信任</tspan><tspan x="551" dy="14.5">工作</tspan></text></g>
<g id="p4-1c" class="c"><rect x="283" y="2150" width="244" height="144.5" rx="5"/><text class="t" x="289" y="2168.5"><tspan x="289">在当今医疗纠纷增多的今天，护理人员心理、</tspan><tspan x="289" dy="14.5">社会压力也在逐渐加大，但做为管理者有责任</tspan><tspan x="289" dy="14.5">把好依法执业这道关，对刚刚取得执业资格的</tspan><tspan x="289" dy="14.5">护士进行严格考核考评，跟班工作，不允许自</tspan><tspan x="289" dy="14.5">行倒班，不仅使护理质量得到保证，也使病人</tspan><tspan x="289" dy="14.5">的权益得到了保障，保证了护理队伍中人员素</tspan><tspan x="289" dy="14.5">质和质量，今年新招聘的两名入岗护士都是已</tspan><tspan x="289" dy="14.5">取得执业证的人员，确保了在为患者治疗的过</tspan><tspan x="289" dy="14.5">程中得到高技术护理人员的呵护和治疗。</tspan></text></g>
<g id="p4-2" class="c"><rect x="591" y="2400" width="198" height="28.5" rx="5"/><text class="t" x="597" y="2418.5">二、坚持以医院标准，提升管理工作</text></g>
<g id="p4-2c" class="c"><rect x="329" y="2320" width="244" height="188" rx="5"/><text class="t" x="335" y="2338.5"><tspan x="335">各种会议都如期按时进行了召开，确实通过规</tspan><tspan x="335" dy="14.5">范的管理，使自己明白了该干什么，如何干，</tspan><tspan x="335" dy="14.5">例会每月一次。中层院周会每月一次。每月进</tspan><tspan x="335" dy="14.5">行检查护理工作汇报总结一次。质控会议每月</tspan><tspan x="335" dy="14.5">进行一次。满意度调查科室每月一次，每月护</tspan><tspan x="335" dy="14.5">理组织查房一次，业务学习每月最少一次，护</tspan><tspan x="335" dy="14.5">理论考试护理部每月组织一次，本科室每季度</tspan><tspan x="335" dy="14.5">一次，操作考试每季度进行一次，都达到了规</tspan><tspan x="335" dy="14.5">范所要求的标准。也真正地通过这些活动使护</tspan><tspan x="335" dy="14.5">理问题得到了及时发现，及时整改，使各项护</tspan><tspan x="335" dy="14.5">理工作逐步规范化，标准化，护理质量有了较</tspan><tspan x="335" dy="14.5">大的提升。</tspan></text></g>
<g id="p4-3" class="c"><rect x="545" y="2564" width="244" height="43" rx="5"/><text class="t" x="551" y="2582.5"><tspan x="551">三、坚持以人为本，以病人为中心的人性化护</tspan><tspan x="551" dy="14.5">理，提升服务工作</tspan></text></g>
<g id="p4-3c" class="c"><rect x="283" y="2535" width="244" height="101" rx="5"/><text class="t" x="289" y="2553.5"><tspan x="289">全体护理人员逐步努力的去用心为患者提供更</tspan><tspan x="289" dy="14.5">优质的服务，让患者从心底感到满意。一年中</tspan><tspan x="289" dy="14.5">科室护理人员以病人为中心，坚持产科送产妇</tspan><tspan x="289" dy="14.5">出院，产后免费送甜酒鸡蛋一碗，外来农民工</tspan><tspan x="289" dy="14.5">评身份证补助100元，使病人满意度始终保持</tspan><tspan x="289" dy="14.5">在90以上，护理纠纷为零。</tspan></text></g>
<g id="p4-4" class="c"><rect x="545" y="2855" width="244" height="43" rx="5"/><text class="t" x="551" y="2873.5"><tspan x="551">四、坚持以护理质量为主线，提升护理工作质</tspan><tspan x="551" dy="14.5">量</tspan></text></g>
<g id="p4-4a" class="c"><rect x="283" y="2663" width="244" height="130" rx="5"/><text class="t" x="289" y="2681.5"><tspan x="289">以质量求发展这是大家都明白的道理，认真实</tspan><tspan x="289" dy="14.5">施两级网络管理，职责明确，分工明确，每周</tspan><tspan x="289" dy="14.5">、每月坚持自查，抽查考核，及时反馈，及时</tspan><tspan x="289" dy="14.5">整改。晨会随时进行三基理论提问，特别是护</tspan><tspan x="289" dy="14.5">理病历进行及时检查，不规范者及时反馈，使</tspan><tspan x="289" dy="14.5">护理病历的质量逐月提高。发现问题及时提出</tspan><tspan x="289" dy="14.5">，及时改正，杜绝了问题的再次发生。一年中</tspan><tspan x="289" dy="14.5">存在问题主要有以下几个方面:</tspan></text></g>
<g id="p4-4b" class="c"><rect x="283" y="2816" width="244" height="43" rx="5"/><text class="t" x="289" y="2834.5"><tspan x="289">1、护理管理者的业务及管理水平需再提高，</tspan><tspan x="289" dy="14.5">其管理创新意识欠佳。</tspan></text></g>
<g id="p4-4c" class="c"><rect x="283" y="2882" width="244" height="43" rx="5"/><text class="t" x="289" y="2900.5"><tspan x="289">2、护理人员积极进取的精神还未充分调动起</tspan><tspan x="289" dy="14.5">来，经常是被动地去做。</tspan></text></g>
<g id="p4-4d" class="c"><rect x="323" y="2949" width="204" height="28.5" rx="5"/><text class="t" x="329" y="2967.5">3、科研工作是护理管理的薄弱项目。</text></g>
<g id="p4-4e" class="c"><rect x="311" y="3013" width="216" height="28.5" rx="5"/><text class="t" x="317" y="3031.5">4、护理人员整体工作能力还有待提升。</text></g>
<g id="p4-4ec" class="c"><rect x="46" y="2998" width="244" height="57.5" rx="5"/><text class="t" x="52" y="3016.5"><tspan x="52">总之在全年工作中，由于有院领导的支持和关</tspan><tspan x="52" dy="14.5">心以及全体护理同仁们的齐心协力，使我院护</tspan><tspan x="52" dy="14.5">理工作在各方面有了一定进步。</tspan></text></g>
</svg>
